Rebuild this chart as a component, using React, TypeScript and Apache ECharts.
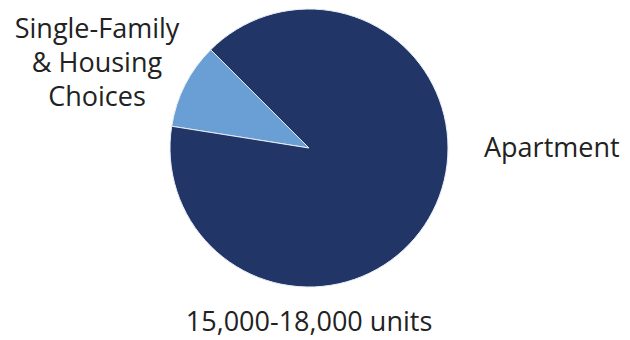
import React, { useEffect, useRef } from "react";
import * as echarts from "echarts";

const categories = ["Single-Family\n& Housing\nChoices", "Apartment"];
const values = [10, 90];
const colors = ["#6a9fd6", "#213666"];
const totalLabel = "15,000-18,000 units";

export default function App() {
  const ref = useRef<HTMLDivElement>(null);
  useEffect(() => {
    if (!ref.current) return;
    const chart = echarts.init(ref.current, undefined, { renderer: "svg" });
    chart.setOption({
      animation: false,
      backgroundColor: "#ffffff",
      series: [
        {
          type: "pie",
          center: [309, 148],
          radius: 139,
          startAngle: 171,
          clockwise: true,
          label: { show: false },
          labelLine: { show: false },
          itemStyle: { borderColor: "#e8eef6", borderWidth: 1 },
          emphasis: { disabled: true },
          data: categories.map((c, i) => ({
            name: c,
            value: values[i],
            itemStyle: { color: colors[i] },
          })),
        },
      ],
      graphic: [
        {
          type: "text",
          x: 97,
          y: 10,
          style: {
            text: categories[0],
            font: "27px 'Open Sans'",
            fill: "#222222",
            align: "center",
            verticalAlign: "top",
            lineHeight: 34,
          },
        },
        {
          type: "text",
          x: 484,
          y: 146,
          style: {
            text: categories[1],
            font: "27px 'Open Sans'",
            fill: "#222222",
            align: "left",
            verticalAlign: "middle",
          },
        },
        {
          type: "text",
          x: 309,
          y: 320,
          style: {
            text: totalLabel,
            font: "27px 'Open Sans'",
            fill: "#222222",
            align: "center",
            verticalAlign: "middle",
            lineHeight: 28,
          },
        },
      ],
    });
    return () => chart.dispose();
  }, []);
  return (
    <div
      ref={ref}
      style={{ position: "absolute", left: 0, top: 0, width: 630, height: 340 }}
    />
  );
}
